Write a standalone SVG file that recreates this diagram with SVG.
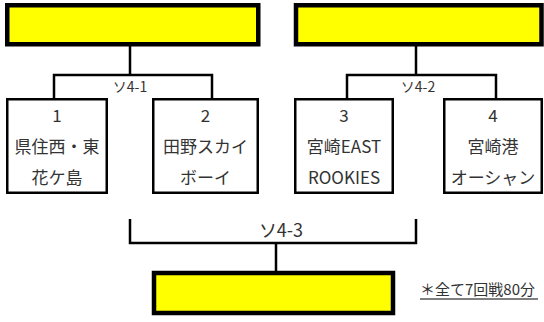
<svg xmlns="http://www.w3.org/2000/svg" width="544" height="322" viewBox="0 0 544 322">
<style>
.win{fill:#ffff00;stroke:#000;stroke-width:4.5}
.team{fill:#fff;stroke:#000;stroke-width:2.5}
.ln{fill:none;stroke:#000;stroke-width:2.5}
text{font-family:"Noto Sans CJK JP","Noto Sans",sans-serif;fill:#333;text-anchor:middle}
.t{font-size:17px}
.lb{font-size:14px}
.lb3{font-size:18px}
.note{font-size:15px;text-anchor:start}
</style>
<rect width="544" height="322" fill="#fff"/>
<g id="connectors">
<path class="ln" d="M130 46V75M54 99V75H212V99"/>
<path class="ln" d="M416 46V75M347 99V75H496V99"/>
<path class="ln" d="M130 219V243H416V219M276 243V271"/>
<line x1="420" y1="299" x2="538" y2="299" stroke="#000" stroke-width="1"/>
</g>
<g id="win1"><rect class="win" x="7.25" y="5.25" width="251" height="39"/></g>
<g id="win2"><rect class="win" x="296" y="5.25" width="245.5" height="39"/></g>
<g id="win3"><rect class="win" x="154" y="273" width="239" height="40"/></g>
<g id="label1"><text class="lb" x="130" y="92">ソ4-1</text></g>
<g id="label2"><text class="lb" x="418" y="92">ソ4-2</text></g>
<g id="label3"><text class="lb3" x="281" y="237">ソ4-3</text></g>
<g id="team1"><rect class="team" x="7.25" y="99.25" width="99.5" height="93.5"/>
<text class="t" x="57" y="122">1</text><text class="t" x="57" y="153">県住西・東</text><text class="t" x="57" y="184">花ケ島</text></g>
<g id="team2"><rect class="team" x="153.25" y="99.25" width="104.5" height="93.5"/>
<text class="t" x="205.5" y="122">2</text><text class="t" x="205.5" y="153">田野スカイ</text><text class="t" x="205.5" y="184">ボーイ</text></g>
<g id="team3"><rect class="team" x="295.25" y="99.25" width="97.5" height="93.5"/>
<text class="t" x="344" y="122">3</text><text class="t" x="344" y="153">宮崎EAST</text><text class="t" x="344" y="184">ROOKIES</text></g>
<g id="team4"><rect class="team" x="444.25" y="99.25" width="97.5" height="93.5"/>
<text class="t" x="493" y="122">4</text><text class="t" x="493" y="153">宮崎港</text><text class="t" x="493" y="184">オーシャン</text></g>
<g id="note"><text class="note" x="420" y="295">＊全て7回戦80分</text></g>
</svg>
